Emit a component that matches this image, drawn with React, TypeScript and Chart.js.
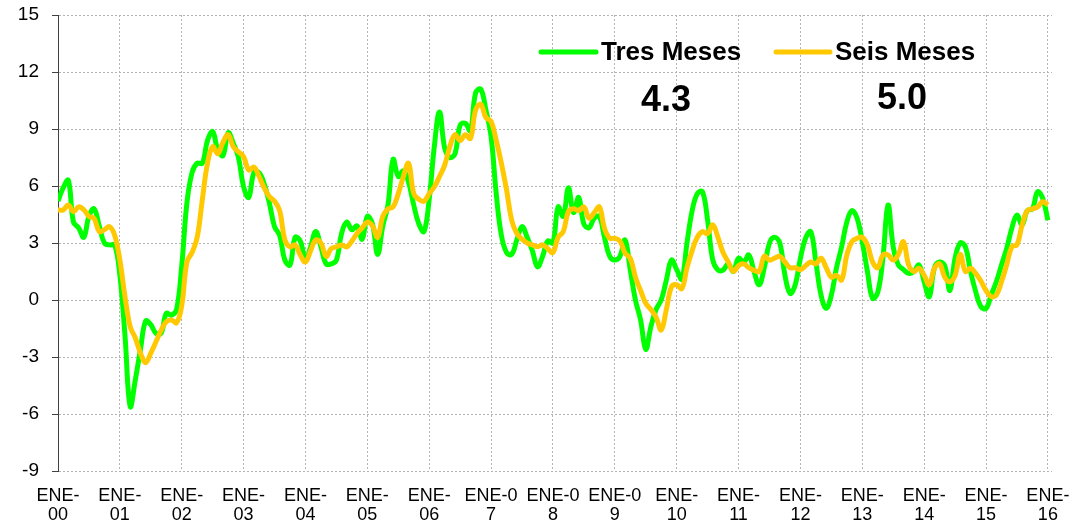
import React, { useEffect, useRef } from "react";
import { Chart, registerables } from "chart.js";

Chart.register(...registerables);

// ---- Data ----
const tickLabels: string[][] = [
  ["ENE-", "00"], ["ENE-", "01"], ["ENE-", "02"], ["ENE-", "03"], ["ENE-", "04"],
  ["ENE-", "05"], ["ENE-", "06"], ["ENE-0", "7"], ["ENE-0", "8"], ["ENE-0", "9"],
  ["ENE-", "10"], ["ENE-", "11"], ["ENE-", "12"], ["ENE-", "13"], ["ENE-", "14"],
  ["ENE-", "15"], ["ENE-", "16"],
];

const tresMeses: number[] = [
  5.2, 5.9, 6.3, 4.1, 3.8, 3.3, 4.4, 4.8, 3.9, 3.0, 2.9, 2.9,
  1.3, -1.9, -5.6, -4.2, -2.6, -1.1, -1.3, -1.75, -1.75, -0.7, -0.8, -0.5,
  1.8, 5.1, 6.7, 7.2, 7.2, 8.4, 8.86, 7.9, 7.6, 8.8, 8.25, 7.5,
  5.96, 5.4, 6.7, 6.7, 6.1, 5.1, 3.86, 3.4, 2.1, 1.84, 3.3, 3.1,
  2.1, 2.8, 3.6, 2.8, 1.9, 1.9, 2.1, 3.5, 4.1, 3.7, 3.9, 3.2,
  4.4, 4.0, 2.4, 3.9, 5.0, 7.4, 6.5, 6.8, 6.2, 5.0, 4.0, 3.6,
  5.3, 8.1, 9.9, 8.0, 7.5, 7.7, 9.2, 9.3, 8.9, 10.9, 11.1, 10.0,
  8.6, 5.6, 3.4, 2.5, 2.4, 3.16, 3.86, 3.3, 2.6, 1.75, 2.3, 3.1,
  3.0, 4.9, 4.4, 5.9, 4.6, 5.4, 4.0, 3.8, 4.3, 4.4, 3.3, 2.3,
  2.1, 2.3, 3.16, 1.58, 0.0, -1.05, -2.6, -1.4, -0.5, 0.0, 1.05, 2.1,
  1.6, 1.1, 3.0, 4.7, 5.6, 5.7, 4.2, 2.1, 1.58, 1.58, 1.9, 1.5,
  2.2, 2.0, 2.37, 1.5, 0.8, 1.7, 3.0, 3.3, 3.0, 1.3, 0.35, 0.8,
  2.2, 3.25, 3.6, 2.0, 0.26, -0.44, 0.26, 1.7, 2.8, 4.1, 4.7, 4.3,
  3.07, 1.5, 0.09, 0.4, 2.2, 5.0, 2.8, 1.84, 1.6, 1.4, 1.5, 1.84,
  0.96, 0.17, 1.7, 2.0, 1.8, 0.5, 2.2, 3.0, 2.8, 1.5, 0.44, -0.35,
  -0.45, 0.26, 0.96, 1.84, 2.7, 3.77, 4.47, 3.95, 4.7, 4.8, 5.7, 5.35, 4.2,
];

const seisMeses: number[] = [
  4.74, 4.74, 5.0, 4.65, 4.9, 4.75, 4.4, 4.3, 3.6, 3.7, 3.86, 3.4,
  2.1, 0.17, -1.4, -2.0, -2.8, -3.3, -2.8, -2.2, -1.6, -1.14, -1.05, -1.2,
  -0.3, 2.0, 2.5, 3.3, 5.3, 7.2, 8.07, 7.7, 8.3, 8.7, 8.07, 7.8,
  7.54, 6.84, 7.0, 6.5, 5.9, 5.44, 5.2, 4.7, 3.16, 2.8, 2.9, 2.37,
  2.0, 2.6, 3.16, 3.0, 2.3, 2.7, 2.8, 2.9, 2.8, 3.1, 3.5, 3.8,
  4.1, 3.9, 3.3, 4.4, 4.8, 4.9, 5.6, 6.5, 7.2, 5.6, 5.3, 5.2,
  5.6, 5.96, 6.5, 7.1, 8.07, 8.7, 8.4, 8.7, 8.5, 10.0, 10.3, 9.6,
  9.4, 8.4, 7.2, 5.8, 4.2, 3.5, 3.2, 3.0, 2.9, 2.8, 2.9, 2.7,
  2.5, 3.3, 3.6, 4.65, 4.8, 4.7, 4.9, 4.3, 4.6, 4.9, 3.77, 3.25,
  3.25, 3.1, 2.46, 2.2, 1.2, 0.5, -0.17, -0.5, -0.9, -1.58, -0.5, 0.7,
  0.8, 0.6, 1.7, 2.6, 3.3, 3.6, 3.5, 3.95, 3.3, 2.5, 2.0, 1.5,
  1.8, 1.9, 1.7, 1.56, 1.5, 2.3, 2.1, 2.2, 2.3, 2.0, 1.7, 1.7,
  1.6, 1.8, 2.0, 1.9, 2.2, 1.7, 1.2, 1.3, 1.05, 2.37, 3.07, 3.25,
  3.3, 2.9, 2.0, 1.7, 2.37, 2.37, 2.1, 2.4, 3.07, 1.84, 1.5, 1.67,
  1.3, 0.8, 1.67, 1.9, 1.2, 0.96, 1.3, 2.4, 1.5, 1.67, 1.4, 1.0,
  0.5, 0.18, 0.26, 0.96, 1.84, 2.8, 2.9, 3.95, 4.7, 4.8, 4.9, 5.17, 5.0,
];

const seriesNames: string[] = ["Tres Meses", "Seis Meses"];
const latestValues: string[] = ["4.3", "5.0"];
const yTicks: number[] = [-9, -6, -3, 0, 3, 6, 9, 12, 15];

const GREEN = "#00FF00";
const GOLD = "#FFC800";
const FONT = '"Liberation Sans", Arial, sans-serif';
const GRID = "#b4b4b4";

const monthTicks = tickLabels.map((_, i) => i * 12);

const overlayPlugin = {
  id: "overlayLegend",
  afterDraw(chart: any) {
    const ctx = chart.ctx as CanvasRenderingContext2D;
    ctx.save();
    const items = [
      { color: GREEN, x1: 541, x2: 596, tx: 601, name: seriesNames[0], vx: 666, vy: 101, val: latestValues[0] },
      { color: GOLD, x1: 776, x2: 830, tx: 835, name: seriesNames[1], vx: 902, vy: 99, val: latestValues[1] },
    ];
    const ly = 52;
    for (const it of items) {
      ctx.strokeStyle = it.color;
      ctx.lineWidth = 5;
      ctx.lineCap = "round";
      ctx.beginPath();
      ctx.moveTo(it.x1, ly);
      ctx.lineTo(it.x2, ly);
      ctx.stroke();
      ctx.fillStyle = "#000";
      ctx.font = `bold 26px ${FONT}`;
      ctx.textAlign = "left";
      ctx.textBaseline = "middle";
      ctx.fillText(it.name, it.tx, ly + 1);
      ctx.font = `bold 36px ${FONT}`;
      ctx.textAlign = "center";
      ctx.fillText(it.val, it.vx, it.vy);
    }
    ctx.restore();
  },
};

export default function App() {
  const canvasRef = useRef<HTMLCanvasElement | null>(null);

  useEffect(() => {
    if (!canvasRef.current) return;
    const toPoints = (arr: number[]) => arr.map((v, i) => ({ x: i, y: v }));
    const chart = new Chart(canvasRef.current, {
      type: "line",
      data: {
        datasets: [
          {
            label: seriesNames[0],
            data: toPoints(tresMeses),
            borderColor: GREEN,
            backgroundColor: GREEN,
            borderWidth: 5,
            pointRadius: 0,
            tension: 0.4,
            order: 1,
          },
          {
            label: seriesNames[1],
            data: toPoints(seisMeses),
            borderColor: GOLD,
            backgroundColor: GOLD,
            borderWidth: 5,
            pointRadius: 0,
            tension: 0.4,
            order: 0,
          },
        ],
      },
      options: {
        animation: false,
        responsive: true,
        maintainAspectRatio: false,
        layout: { padding: { top: 15, right: 32, left: 0, bottom: 0 } },
        plugins: {
          legend: { display: false },
          tooltip: { enabled: false },
        },
        scales: {
          x: {
            type: "linear",
            min: 0,
            max: 192.8,
            afterBuildTicks: (scale: any) => {
              scale.ticks = monthTicks.map((v) => ({ value: v }));
            },
            afterFit: (scale: any) => {
              scale.height = 56;
              scale.paddingLeft = 0;
              scale.paddingRight = 0;
            },
            grid: {
              color: (c: any) => (c.index === 0 ? "rgba(0,0,0,0)" : GRID),
              lineWidth: 1,
              drawTicks: false,
            },
            border: { display: false, dash: [2, 2] },
            ticks: {
              autoSkip: false,
              maxRotation: 0,
              minRotation: 0,
              padding: 16,
              color: "#000",
              font: { family: FONT, size: 18, lineHeight: 1.05 },
              callback: (value: any) => {
                const idx = Math.round(Number(value) / 12);
                return tickLabels[idx] ?? "";
              },
            },
          },
          y: {
            type: "linear",
            min: -9,
            max: 15,
            afterBuildTicks: (scale: any) => {
              scale.ticks = yTicks.map((v) => ({ value: v }));
            },
            afterFit: (scale: any) => {
              scale.width = 58;
              scale.paddingTop = 0;
              scale.paddingBottom = 0;
            },
            grid: {
              color: GRID,
              lineWidth: 1,
              drawTicks: true,
              tickLength: 6,
              tickColor: "#404040",
              tickBorderDash: [],
            },
            border: { display: true, color: "#404040", width: 1, dash: [2, 2] },
            ticks: {
              padding: 13,
              color: "#000",
              font: { family: FONT, size: 19 },
              callback: (v: any) => String(v),
            },
          },
        },
      },
      plugins: [overlayPlugin],
    });
    return () => chart.destroy();
  }, []);

  return (
    <div style={{ position: "fixed", left: 0, top: 0, width: 1084, height: 527, background: "#fff" }}>
      <canvas ref={canvasRef} />
    </div>
  );
}
